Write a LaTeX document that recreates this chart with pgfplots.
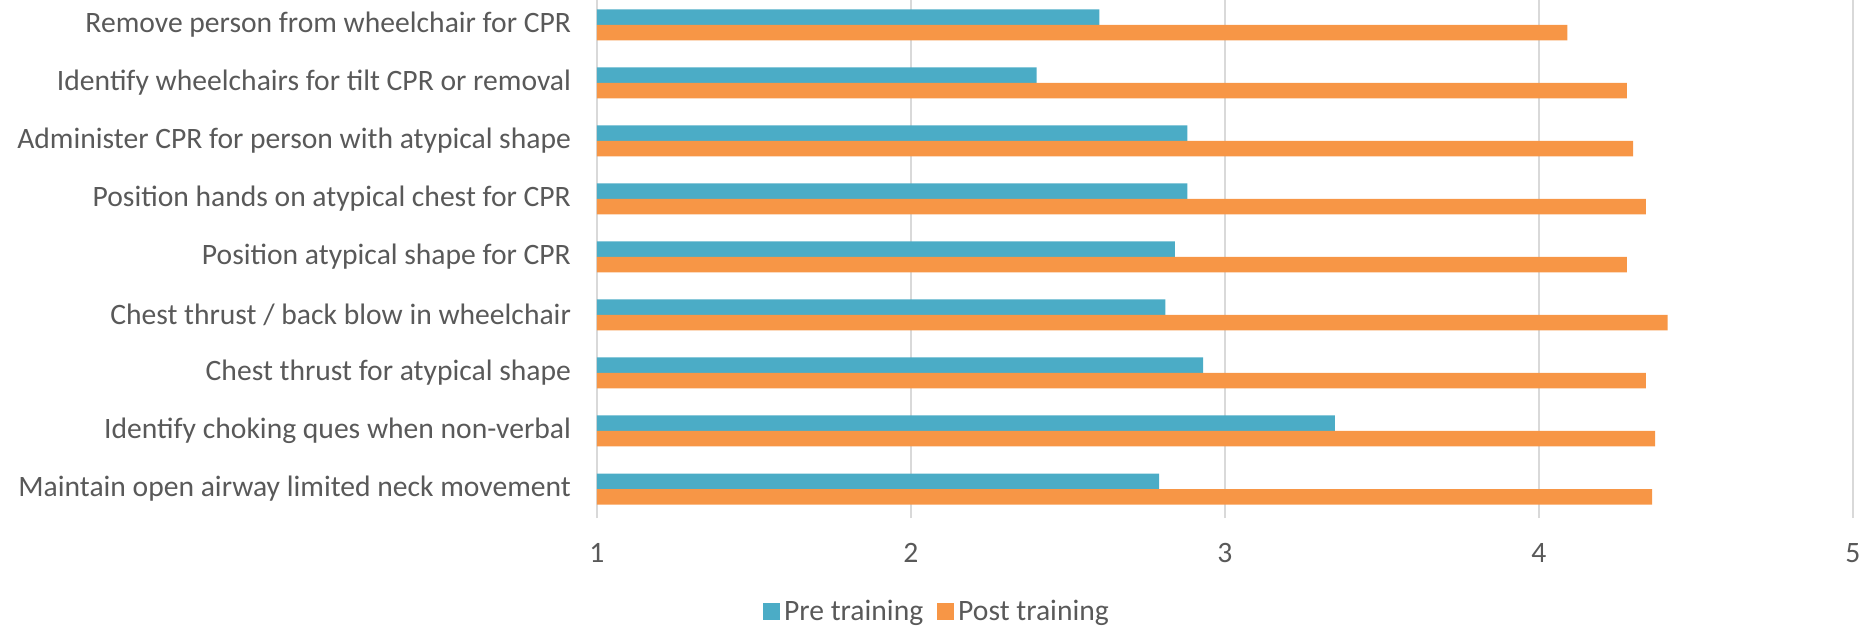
\documentclass[border=0pt]{standalone}
\usepackage{pgfplots}
\pgfplotsset{compat=1.18}
\usepackage{fontspec}
\setmainfont{Carlito}
\definecolor{pre}{HTML}{4BACC6}
\definecolor{post}{HTML}{F79646}
\definecolor{txt}{HTML}{595959}
\definecolor{gridc}{HTML}{D9D9D9}
\begin{document}
\begin{tikzpicture}
\useasboundingbox (-298.5pt,-55.5pt) rectangle (633.5pt,259pt);
\begin{axis}[
  at={(0pt,0pt)}, anchor=south west,
  scale only axis, width=628pt, height=259pt,
  xmin=1, xmax=5, ymin=-0.5, ymax=8.43,
  xtick={1,2,3,4,5},
  ytick={0,...,8},
  yticklabels={Maintain open airway limited neck movement,
    Identify choking ques when non-verbal,
    Chest thrust for atypical shape,
    Chest thrust / back blow in wheelchair,
    Position atypical shape for CPR,
    Position hands on atypical chest for CPR,
    Administer CPR for person with atypical shape,
    Identify wheelchairs for tilt CPR or removal,
    Remove person from wheelchair for CPR},
  xmajorgrids, grid style={draw=gridc, line width=1pt},
  axis line style={draw=none},
  major tick length=0pt,
  tick label style={font=\fontsize{14.8}{17}\selectfont, text=txt},
  /pgf/number format/assume math mode=true,
  yticklabel style={xshift=-9.5pt},
  xticklabel style={yshift=-9pt},
  legend style={draw=none, fill=none, legend columns=2,
    at={(rel axis cs:0.2715,-0.1815)}, anchor=center,
    font=\fontsize{14.8}{17}\selectfont, text=txt,
    /tikz/every even column/.append style={column sep=5pt}},
  legend image code/.code={\fill[#1,draw=none] (0pt,-4pt) rectangle (8.5pt,4.5pt);},
]
\addplot[xbar, fill=pre, draw=none, bar width=7.75pt, bar shift=3.875pt] coordinates {
  (2.79,0) (3.35,1) (2.93,2) (2.81,3) (2.84,4) (2.88,5) (2.88,6) (2.40,7) (2.60,8)};
\addlegendentry{Pre training}
\addplot[xbar, fill=post, draw=none, bar width=7.75pt, bar shift=-3.875pt] coordinates {
  (4.36,0) (4.37,1) (4.34,2) (4.41,3) (4.28,4) (4.34,5) (4.30,6) (4.28,7) (4.09,8)};
\addlegendentry{Post training}
\end{axis}
\end{tikzpicture}
\end{document}
